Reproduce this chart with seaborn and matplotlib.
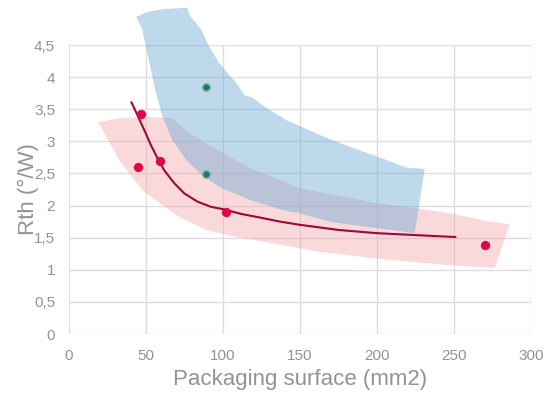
import matplotlib
matplotlib.use("Agg")
import matplotlib.pyplot as plt
import seaborn as sns
import pandas as pd

# Measured points
red_x = [45, 47, 59, 102, 270]
red_y = [2.60, 3.42, 2.69, 1.90, 1.39]
blue_x = [89, 89]
blue_y = [3.85, 2.49]

# Trend curve
curve_x = [40.5, 44.4, 48.8, 53.2, 57.4, 61.8, 68.3, 74.8, 83.5, 92.2, 100.8, 111.7, 124.7,
           137.0, 150.0, 175.0, 200.0, 225.0, 251.0]
curve_y = [3.61, 3.41, 3.18, 2.94, 2.74, 2.55, 2.35, 2.19, 2.06, 1.98, 1.94, 1.87, 1.81,
           1.75, 1.70, 1.62, 1.57, 1.54, 1.51]

# Blue envelope outline
blue_env_x = [43.6, 52.0, 61.8, 76.8, 78.1, 85.9, 91.1, 97.6, 104.1, 108.7, 113.9, 119.1, 128.2,
              141.2, 162.7, 184.1, 206.2, 219.3, 231.0, 224.5, 199.7, 171.1, 149.6, 138.6,
              117.1, 97.6, 84.6, 76.1, 67.0, 60.5, 56.0, 51.5, 47.5]
blue_env_y = [4.94, 5.02, 5.06, 5.08, 4.97, 4.74, 4.47, 4.22, 4.03, 3.91, 3.72, 3.68, 3.52,
              3.33, 3.10, 2.90, 2.71, 2.59, 2.57, 1.57, 1.65, 1.74, 1.88, 1.93,
              2.09, 2.29, 2.51, 2.71, 3.02, 3.40, 3.80, 4.30, 4.75]

# Pink envelope outline
pink_env_x = [18.9, 32.5, 50.1, 67.0, 78.1, 93.0, 104.1, 117.1, 136.6, 149.6, 171.1, 199.7,
              224.5, 247.2, 271.3, 286.3, 276.5, 247.2, 201.7, 162.7, 130.1, 108.7, 89.1,
              71.6, 58.6, 47.5, 32.5]
pink_env_y = [3.30, 3.36, 3.38, 3.36, 3.13, 2.91, 2.76, 2.59, 2.40, 2.27, 2.17, 2.04,
              1.96, 1.88, 1.76, 1.71, 1.03, 1.07, 1.17, 1.28, 1.42, 1.51, 1.62,
              1.82, 2.04, 2.24, 2.71]

x_ticks = [0, 50, 100, 150, 200, 250, 300]
y_ticks = [0, 0.5, 1, 1.5, 2, 2.5, 3, 3.5, 4, 4.5]
y_tick_labels = ["0", "0,5", "1", "1,5", "2", "2,5", "3", "3,5", "4", "4,5"]

sns.set_style("white")
plt.rcParams["font.family"] = ["Liberation Sans", "DejaVu Sans"]

fig = plt.figure(figsize=(5.52, 3.96), dpi=100)
ax = fig.add_axes([69 / 552, 62 / 396, 462 / 552, 289 / 396])

ax.fill(pink_env_x, pink_env_y, color="#f4a6aa", alpha=0.42, lw=0, zorder=1, clip_on=False)
ax.fill(blue_env_x, blue_env_y, color="#72aad6", alpha=0.46, lw=0, zorder=2, clip_on=False)

curve_df = pd.DataFrame({"x": curve_x, "y": curve_y})
sns.lineplot(data=curve_df, x="x", y="y", sort=False, color="#a0053c", lw=1.5, ax=ax, zorder=4,
             solid_joinstyle="round")

red_df = pd.DataFrame({"x": red_x, "y": red_y})
sns.scatterplot(data=red_df, x="x", y="y", color="#e0064a", s=45, linewidth=0, ax=ax, zorder=5)
blue_df = pd.DataFrame({"x": blue_x, "y": blue_y})
sns.scatterplot(data=blue_df, x="x", y="y", color="#1d6aa8", edgecolor="#7dbb4a", s=28,
                linewidth=1, ax=ax, zorder=5)

ax.set_xlim(0, 300)
ax.set_ylim(0, 4.5)
ax.set_xticks(x_ticks)
ax.set_xticklabels([str(v) for v in x_ticks])
ax.set_yticks(y_ticks)
ax.set_yticklabels(y_tick_labels)
ax.grid(True, color="#dedede", lw=1)
ax.set_axisbelow(True)
for s in ax.spines.values():
    s.set_visible(False)
ax.tick_params(axis="both", length=0, labelsize=11, labelcolor="#939393")
ax.tick_params(axis="x", pad=11)
ax.tick_params(axis="y", pad=10)

ax.set_xlabel("Packaging surface (mm2)", fontsize=16, color="#939393", labelpad=4)
ax.set_ylabel("Rth (°/W)", fontsize=16, color="#939393")
ax.yaxis.set_label_coords(-30 / 462, 0.5)

fig.savefig("out.png", dpi=100)
